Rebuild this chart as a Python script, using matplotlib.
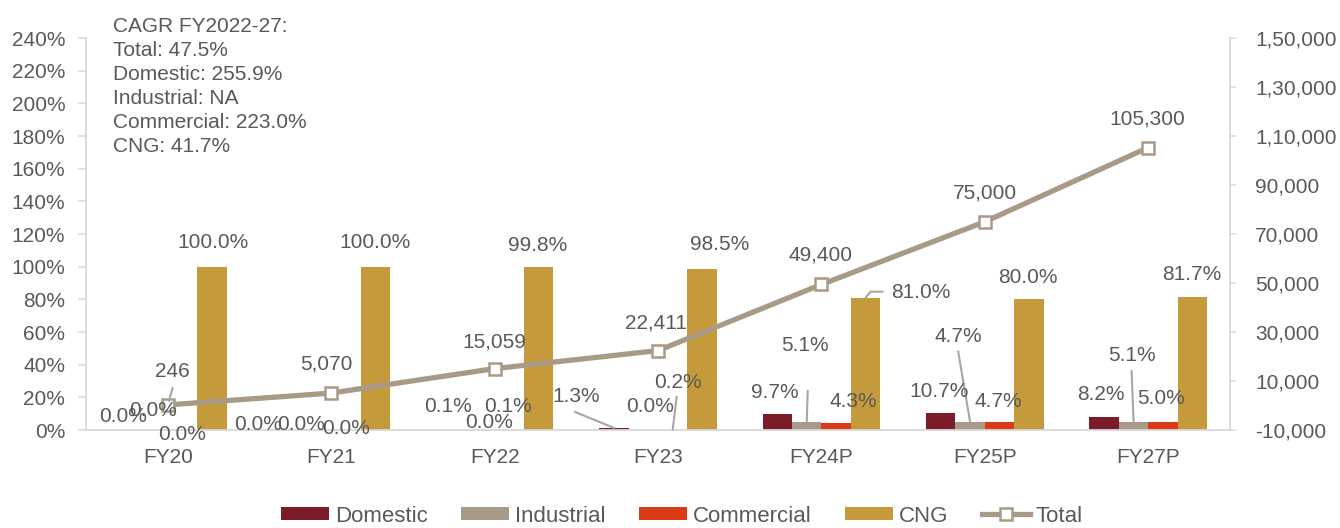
import matplotlib.pyplot as plt
import matplotlib as mpl
import numpy as np
from matplotlib.lines import Line2D
from matplotlib.patches import Patch
from matplotlib.ticker import FuncFormatter, MultipleLocator

mpl.rcParams.update({
    "font.family": ["Liberation Sans", "DejaVu Sans"],
    "font.size": 15,
    "text.color": "#595959",
    "axes.edgecolor": "#D9D9D9",
    "xtick.color": "#D9D9D9",
    "ytick.color": "#D9D9D9",
    "xtick.labelcolor": "#595959",
    "ytick.labelcolor": "#595959",
})

# --- data ---
years = ["FY20", "FY21", "FY22", "FY23", "FY24P", "FY25P", "FY27P"]
domestic = [0.0, 0.0, 0.1, 1.3, 9.7, 10.7, 8.2]
industrial = [0.0, 0.0, 0.0, 0.0, 5.1, 4.7, 5.1]
commercial = [0.0, 0.0, 0.1, 0.2, 4.3, 4.7, 5.0]
cng = [100.0, 100.0, 99.8, 98.5, 81.0, 80.0, 81.7]
total = [246, 5070, 15059, 22411, 49400, 75000, 105300]

cagr_lines = [
    "CAGR FY2022-27:",
    "Total: 47.5%",
    "Domestic: 255.9%",
    "Industrial: NA",
    "Commercial: 223.0%",
    "CNG: 41.7%",
]

COL_DOM = "#7B1C28"
COL_IND = "#A89A87"
COL_COM = "#D83B16"
COL_CNG = "#C59A3B"
COL_TOT = "#A89A87"
LEADER = "#A6A6A6"
FS = 15

# label offsets in pixels (dx, dy) from the top of each bar / marker
off_dom = [(-1, 13), (-29, 5), (-2, 23), (-38, 31), (-2, 22), (-2, 21), (-3, 22)]
off_ind = [(0, 19), (-15, 5), (9, 8), (7, 24), (-2, 76), (-12, 86), (-2, 66)]
off_com = [(0, -4), (0, 1), (-1, 23), (5, 47), (17, 21), (-1, 21), (-2, 23)]
off_cng = [(1, 24), (0, 24), (-1, 21), (17, 25), (55, 5), (-1, 22), (-1, 22)]
off_tot = [(5, 33), (-5, 29), (0, 27), (-2, 28), (-1, 29), (0, 29), (-1, 29)]

fig = plt.figure(figsize=(13.4, 5.28), dpi=100)
ax = fig.add_axes([86 / 1340, 98 / 528, 1144 / 1340, 392 / 528])
ax2 = ax.twinx()

x = np.arange(len(years))
w = 0.18
series = [
    (domestic, COL_DOM, "Domestic", off_dom),
    (industrial, COL_IND, "Industrial", off_ind),
    (commercial, COL_COM, "Commercial", off_com),
    (cng, COL_CNG, "CNG", off_cng),
]
for i, (vals, col, name, offs) in enumerate(series):
    xs = x + (i - 1.5) * w
    ax.bar(xs, np.array(vals) / 100, width=w, color=col, label=name, zorder=2)
    for xi, v, (dx, dy) in zip(xs, vals, offs):
        ax2.annotate(f"{v:.1f}%", xy=(xi, v / 100), xycoords=ax.transData,
                     xytext=(dx, dy), textcoords="offset pixels",
                     ha="center", va="center", fontsize=FS, color="#595959",
                     zorder=5)

ax.set_xlim(-0.5, len(years) - 0.5)
ax.set_ylim(0, 2.4)
ax.yaxis.set_major_locator(MultipleLocator(0.2))
ax.yaxis.set_major_formatter(FuncFormatter(lambda v, p: f"{v * 100:.0f}%"))
ax.set_xticks(x)
ax.set_xticklabels(years)
ax.tick_params(axis="x", length=0, pad=13, labelsize=FS)
ax.tick_params(axis="y", length=6, width=1.1, pad=9, labelsize=FS)
for s in ["top", "right"]:
    ax.spines[s].set_visible(False)
for s in ["left", "bottom"]:
    ax.spines[s].set_linewidth(1.3)


def indian(v, pos):
    n = int(round(v))
    sign = "-" if n < 0 else ""
    s = str(abs(n))
    if len(s) > 3:
        head, tail = s[:-3], s[-3:]
        groups = []
        while len(head) > 2:
            groups.insert(0, head[-2:])
            head = head[:-2]
        if head:
            groups.insert(0, head)
        s = ",".join(groups) + "," + tail
    return sign + s


ax2.plot(x, total, color=COL_TOT, lw=3.8, marker="s", ms=8.5,
         mfc="white", mec=COL_TOT, mew=1.8, zorder=3)
ax2.set_ylim(-10000, 150000)
ax2.set_yticks(np.arange(-10000, 150001, 20000))
ax2.yaxis.set_major_formatter(FuncFormatter(indian))
ax2.tick_params(axis="y", length=4, width=1.1, pad=14, labelsize=FS)
for s in ["top", "left", "bottom"]:
    ax2.spines[s].set_visible(False)
ax2.spines["right"].set_linewidth(1.3)

for xi, v, (dx, dy) in zip(x, total, off_tot):
    ax2.annotate(f"{v:,}", xy=(xi, v), xytext=(dx, dy), textcoords="offset pixels",
                 ha="center", va="center", fontsize=FS, color="#595959", zorder=5)

# leader lines: (axis data point, start offset in pixels)
leader_kw = dict(arrowstyle="-", color=LEADER, lw=1.5, shrinkA=0)
ax2.annotate("", xy=(x[0], total[0]), xytext=(5, 17), textcoords="offset pixels",
             arrowprops=dict(**leader_kw, shrinkB=3))
leaders = [
    (x[3] - 1.5 * w, domestic[3], (-39, 16)),
    (x[3] + 0.5 * w, commercial[3], (4, 33)),
    (x[4] - 0.5 * w, industrial[4], (1, 31)),
    (x[5] - 0.5 * w, industrial[5], (-12, 71)),
    (x[6] - 0.5 * w, industrial[6], (-2, 51)),
]
for xi, v, (dx, dy) in leaders:
    ax2.annotate("", xy=(xi, v / 100), xycoords=ax.transData,
                 xytext=(dx, dy), textcoords="offset pixels",
                 arrowprops=dict(**leader_kw, shrinkB=0))
ax2.annotate("", xy=(x[4] + 1.5 * w, cng[4] / 100), xycoords=ax.transData,
             xytext=(17, 6), textcoords="offset pixels",
             arrowprops=dict(**leader_kw, shrinkB=0,
                             connectionstyle="angle,angleA=0,angleB=50,rad=0"))

fig.text(113 / 1340, 1 - 17 / 528, "\n".join(cagr_lines), ha="left", va="top",
         fontsize=FS, color="#595959", linespacing=1.33)

handles = [
    Patch(facecolor=COL_DOM, label="Domestic"),
    Patch(facecolor=COL_IND, label="Industrial"),
    Patch(facecolor=COL_COM, label="Commercial"),
    Patch(facecolor=COL_CNG, label="CNG"),
    Line2D([], [], color=COL_TOT, lw=3.8, marker="s", ms=8.5, mfc="white",
           mec=COL_TOT, mew=1.8, label="Total"),
]
fig.legend(handles=handles, loc="center", bbox_to_anchor=(0.509, 12 / 528),
           ncol=5, frameon=False, fontsize=16,
           handlelength=2.15, handleheight=0.5, handletextpad=0.28,
           columnspacing=1.5, labelcolor="#595959")

fig.savefig("out.png", dpi=100)
